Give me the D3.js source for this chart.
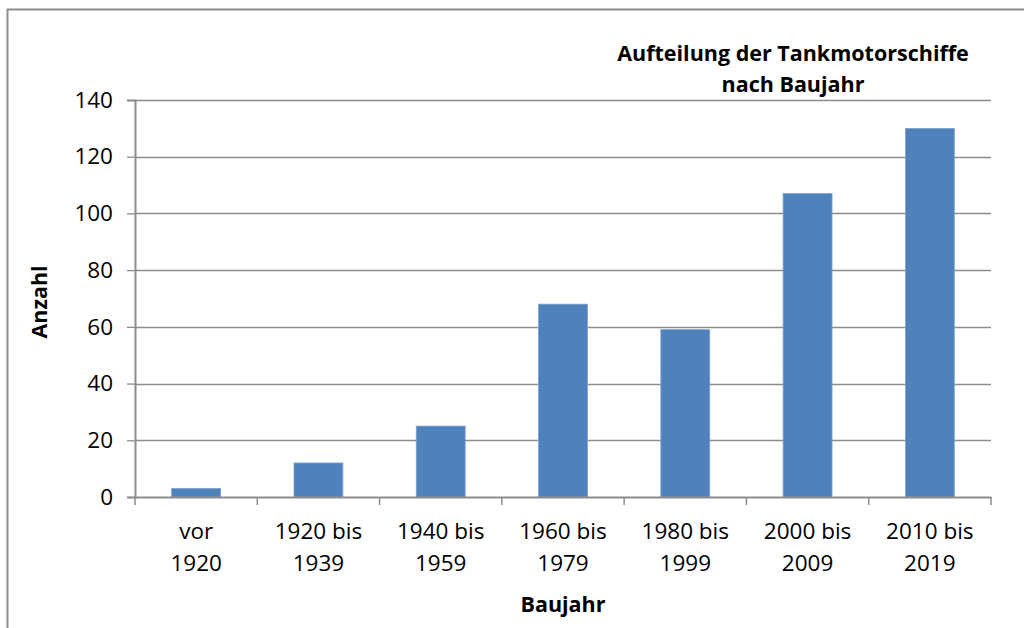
<!DOCTYPE html>
<html>
<head>
<meta charset="utf-8">
<script src="https://cdn.jsdelivr.net/npm/d3@7"></script>
<style>
  body { margin: 0; background: #fff; }
  svg { display: block; font-family: "Open Sans", sans-serif; }
</style>
</head>
<body>
<svg id="chart"></svg>
<script>
const categories = [['vor', '1920'], ['1920 bis', '1939'], ['1940 bis', '1959'], ['1960 bis', '1979'],
  ['1980 bis', '1999'], ['2000 bis', '2009'], ['2010 bis', '2019']]
const values = [3, 12, 25, 68, 59, 107, 130]
const yTicks = [0, 20, 40, 60, 80, 100, 120, 140]

const width = 1024
const height = 628
const margin = { top: 100, right: 33, bottom: 131, left: 135 }

const svg = d3.select('#chart').attr('width', width).attr('height', height)

// outer frame of the chart
svg.append('path')
  .attr('d', `M7.5,${height} V9.5 H${width}`)
  .attr('fill', 'none')
  .attr('stroke', '#8c8c8c')
  .attr('stroke-width', 2)

const xb = d3.scaleBand()
  .domain(categories.map(d => d.join(' ')))
  .range([margin.left, width - margin.right])

const y = d3.scaleLinear()
  .domain([0, 140])
  .range([height - margin.bottom, margin.top])

const grid = svg.append('g')
grid.selectAll('line')
  .data(yTicks.slice(1))
  .enter().append('line')
  .attr('x1', margin.left)
  .attr('x2', width - margin.right)
  .attr('y1', d => Math.round(y(d)) + 0.5)
  .attr('y2', d => Math.round(y(d)) + 0.5)
  .attr('stroke', '#8c8c8c')
  .attr('stroke-width', 1.3)

svg.append('g')
  .selectAll('rect')
  .data(values)
  .enter().append('rect')
  .attr('x', (d, i) => xb(categories[i].join(' ')) + xb.bandwidth() * 0.3)
  .attr('width', xb.bandwidth() * 0.4)
  .attr('y', d => y(d))
  .attr('height', d => y(0) - y(d))
  .attr('fill', '#4f81bd')
  .attr('stroke', '#7ea1cf')
  .attr('stroke-width', 0.8)

// y axis
const yAxis = svg.append('g')
  .attr('transform', `translate(${margin.left},0)`)
  .call(d3.axisLeft(y).tickValues(yTicks).tickSize(8).tickPadding(14))
yAxis.select('.domain').attr('stroke', '#8c8c8c').attr('stroke-width', 2)
yAxis.selectAll('.tick line').attr('stroke', '#8c8c8c').attr('stroke-width', 1.3)
yAxis.selectAll('.tick text')
  .attr('font-size', 22.5).attr('fill', '#000').attr('font-family', 'Open Sans')

// x axis
const xAxis = svg.append('g')
  .attr('transform', `translate(0,${y(0)})`)
  .call(d3.axisBottom(xb).tickSize(0).tickFormat(''))
xAxis.select('.domain').attr('stroke', '#8c8c8c').attr('stroke-width', 2)

const bounds = xb.domain().map(d => xb(d)).concat([width - margin.right])
svg.append('g')
  .selectAll('line')
  .data(bounds)
  .enter().append('line')
  .attr('x1', d => d).attr('x2', d => d)
  .attr('y1', y(0)).attr('y2', y(0) + 8)
  .attr('stroke', '#8c8c8c')
  .attr('stroke-width', 1.5)

const labels = svg.append('g')
  .selectAll('text')
  .data(categories)
  .enter().append('text')
  .attr('x', d => xb(d.join(' ')) + xb.bandwidth() / 2)
  .attr('y', 539)
  .attr('text-anchor', 'middle')
  .attr('font-size', 22.5)
labels.append('tspan').text(d => d[0])
labels.append('tspan')
  .attr('x', d => xb(d.join(' ')) + xb.bandwidth() / 2)
  .attr('dy', 32)
  .text(d => d[1])

// axis titles
svg.append('text')
  .attr('x', (margin.left + width - margin.right) / 2)
  .attr('y', 612)
  .attr('text-anchor', 'middle')
  .attr('font-size', 21.5)
  .attr('font-weight', 'bold')
  .text('Baujahr')

svg.append('text')
  .attr('transform', 'translate(47,302) rotate(-90)')
  .attr('text-anchor', 'middle')
  .attr('font-size', 21.5)
  .attr('font-weight', 'bold')
  .text('Anzahl')

// chart title
const title = svg.append('text')
  .attr('x', 793)
  .attr('y', 61)
  .attr('text-anchor', 'middle')
  .attr('font-size', 21.5)
  .attr('font-weight', 'bold')
title.append('tspan').text('Aufteilung der Tankmotorschiffe')
title.append('tspan').attr('x', 793).attr('dy', 31).text('nach Baujahr')
</script>
</body>
</html>
